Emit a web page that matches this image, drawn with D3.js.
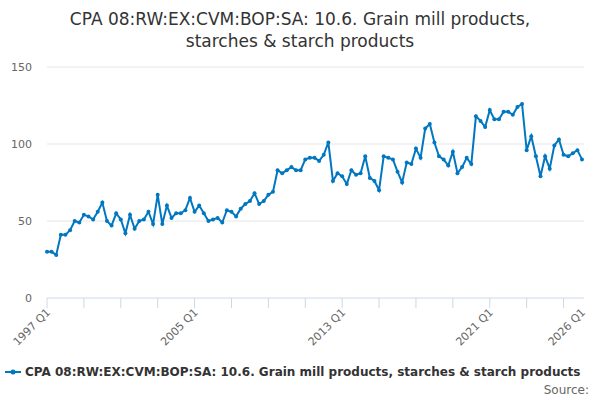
<!DOCTYPE html>
<html><head><meta charset="utf-8">
<script src="https://cdn.jsdelivr.net/npm/d3@7"></script>
<style>body{margin:0;background:#fff}text{font-family:"DejaVu Sans",sans-serif}</style>
</head><body><svg id="c" width="600" height="400"></svg>
<script>
// quarterly values 1997 Q1 .. 2026 Q1
var values = [
  30,30,28,41, 41,44,50,49, 54,53,51,56, 62,50,47,55, 51,42,54,45,
  50,51,56,48, 67,48,60,52, 55,55,57,65, 56,60,55,50, 51,52,49,57,
  56,53,58,61, 63,68,61,63, 67,69,83,81, 83,85,83,83, 90,91,91,89,
  93,101,76,81, 79,74,83,80, 81,92,78,76, 70,92,91,90, 82,75,88,87,
  97,91,110,113, 101,92,90,86, 95,81,85,91, 87,118,115,111, 122,116,116,121,
  121,119,124,126, 96,105,92,79, 92,84,99,103, 93,92,94,96, 90
]
var yTicks = [0, 50, 100, 150]
var xLabels = ["1997 Q1", "2005 Q1", "2013 Q1", "2021 Q1", "2026 Q1"]
var title = ["CPA 08:RW:EX:CVM:BOP:SA: 10.6. Grain mill products,", "starches & starch products"]
var seriesName = "CPA 08:RW:EX:CVM:BOP:SA: 10.6. Grain mill products, starches & starch products"

var svg = d3.select("#c")
var x = d3.scaleLinear().domain([0, values.length - 1]).range([47, 582])
var y = d3.scaleLinear().domain([0, 150]).range([298, 67])

svg.selectAll("text.title").data(title).enter().append("text")
  .attr("x", 300).attr("y", function(d, i){ return 25 + i*22 })
  .attr("text-anchor", "middle").attr("font-size", 17).attr("fill", "#333")
  .text(function(d){ return d })

yTicks.forEach(function(t){
  svg.append("line").attr("x1", 47).attr("x2", 584).attr("y1", y(t)).attr("y2", y(t))
    .attr("stroke", t ? "#e6e6e6" : "#ccd6eb")
  svg.append("text").attr("x", 32).attr("y", y(t) + 4).attr("text-anchor", "end")
    .attr("font-size", 11).attr("fill", "#666").text(t)
})

for (var i = 0; i < values.length; i += 8) {
  svg.append("line").attr("x1", x(i)).attr("x2", x(i)).attr("y1", 298).attr("y2", 308)
    .attr("stroke", "#ccd6eb")
}
var labIdx = [0, 32, 64, 96, values.length - 1]
labIdx.forEach(function(k, j){
  svg.append("text").attr("transform", "translate(" + (x(k) + 4) + ",313) rotate(-45)")
    .attr("text-anchor", "end").attr("font-size", 11).attr("fill", "#666").text(xLabels[j])
})

var line = d3.line().x(function(d, i){ return x(i) }).y(function(d){ return y(d) })
svg.append("path").datum(values).attr("d", line).attr("fill", "none")
  .attr("stroke", "#0077c0").attr("stroke-width", 2)
svg.selectAll("circle.p").data(values).enter().append("circle")
  .attr("cx", function(d, i){ return x(i) }).attr("cy", function(d){ return y(d) })
  .attr("r", 2).attr("fill", "#0077c0")

svg.append("line").attr("x1", 5).attr("x2", 21).attr("y1", 372).attr("y2", 372)
  .attr("stroke", "#0077c0").attr("stroke-width", 2)
svg.append("circle").attr("cx", 13).attr("cy", 372).attr("r", 2.5).attr("fill", "#0077c0")
svg.append("text").attr("x", 25).attr("y", 376).attr("font-size", 12)
  .attr("font-weight", "bold").attr("fill", "#333").text(seriesName)
svg.append("text").attr("x", 589).attr("y", 394).attr("text-anchor", "end")
  .attr("font-size", 12).attr("fill", "#666").text("Source:")
</script></body></html>
